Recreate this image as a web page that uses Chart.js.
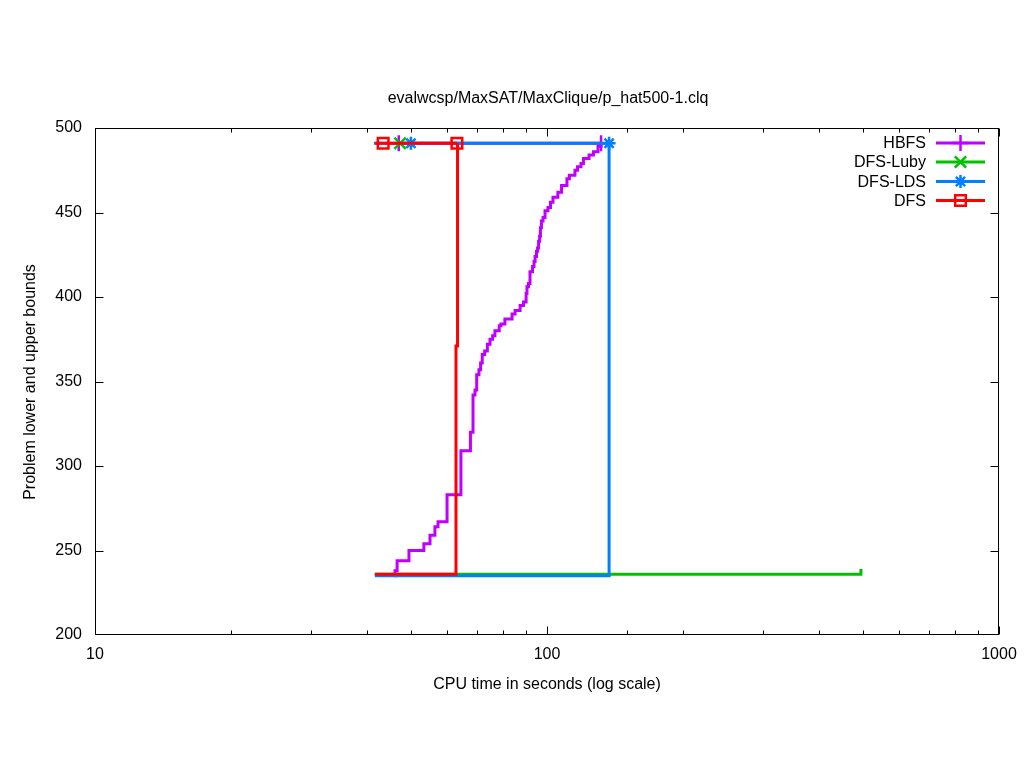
<!DOCTYPE html>
<html>
<head>
<meta charset="utf-8">
<script src="https://cdn.jsdelivr.net/npm/chart.js@4/dist/chart.umd.min.js"></script>
<style>
html,body{margin:0;padding:0;background:#fff;}
canvas{display:block;}
</style>
</head>
<body>
<canvas id="c" width="1024" height="768"></canvas>
<script>
// ---- data (time in seconds, bound value) ----
const chartTitle = 'evalwcsp/MaxSAT/MaxClique/p_hat500-1.clq';
const xTitle = 'CPU time in seconds (log scale)';
const yTitle = 'Problem lower and upper bounds';
const xTickLabels = [10, 100, 1000];
const yTickValues = [200, 250, 300, 350, 400, 450, 500];
const seriesNames = ['HBFS', 'DFS-Luby', 'DFS-LDS', 'DFS'];

// HBFS
const hbfsUpperTime  = [47.0, 131.7];
const hbfsUpperBound = [491, 491];
const hbfsLowerTime  = [45.9, 46.1, 46.6, 49.5, 53.4, 55.1, 56.5, 57.4, 60.1, 64.5, 67.7, 68.6, 69.3, 69.9, 70.7, 71.3, 71.9, 72.8, 73.8, 74.8, 75.8, 76.7, 78.4, 79.1, 80.7, 83.7, 85.0, 87.2, 88.7, 89.9, 90.3, 91.0, 91.7, 92.9, 93.6, 94.1, 94.8, 95.3, 95.8, 96.3, 96.7, 97.2, 98.0, 99.0, 100.5, 101.8, 103.1, 105.7, 107.7, 110.7, 112.1, 115.3, 116.8, 118.9, 120.4, 123.9, 126.7, 129.7, 131.7];
const hbfsLowerBound = [235, 238, 244, 250, 254, 259, 264, 267, 283, 309, 320, 342, 345, 354, 357, 361, 366, 368, 372, 375, 377, 380, 383, 384, 387, 390, 392, 395, 397, 402, 406, 408, 415, 418, 421, 424, 427, 429, 433, 436, 441, 445, 447, 451, 453, 456, 459, 462, 466, 470, 472, 475, 477, 479, 482, 484, 486, 489, 491];

// DFS-Luby
const lubyUpperTime  = [47.3];
const lubyUpperBound = [491];
const lubyLowerTime  = [41.6, 495];
const lubyLowerBound = [236, 239];

// DFS-LDS
const ldsUpperTime  = [41.4, 50.0, 137.2];
const ldsUpperBound = [491, 491, 491];
const ldsUpperMark  = [false, true, true];
const ldsLowerTime  = [41.6, 137.2];
const ldsLowerBound = [235, 491];

// DFS
const dfsUpperTime  = [41.7, 43.4, 63.2];
const dfsUpperBound = [491, 491, 491];
const dfsUpperMark  = [false, true, true];
const dfsLowerTime  = [41.6, 62.9, 63.4];
const dfsLowerBound = [236, 371, 491];

// ---- styling ----
const FONT = '"Liberation Sans", Arial, sans-serif';
const colors = {HBFS:'#C000FF', 'DFS-Luby':'#00C000', 'DFS-LDS':'#0080FF', DFS:'#FF0000'};
const markers = {
  HBFS: {pointStyle:'cross', radius:8},
  'DFS-Luby': {pointStyle:'crossRot', radius:8},
  'DFS-LDS': {pointStyle:'star', radius:6.5},
  DFS: {pointStyle:'rect', radius:7.5}
};
const LW = 3;

function pts(t, v){ return t.map((x,i)=>({x:x, y:v[i]})); }

function upperDS(name, t, v, mark){
  const m = markers[name];
  return {
    label: name, data: pts(t, v), stepped: true,
    borderColor: colors[name], borderWidth: LW, backgroundColor:'rgba(0,0,0,0)',
    pointStyle: m.pointStyle,
    pointRadius: mark ? mark.map(b=>b?m.radius:0) : m.radius,
    pointBorderWidth: 2.5, pointBorderColor: colors[name], pointBackgroundColor:'rgba(0,0,0,0)',
    pointHoverRadius: 0
  };
}
function lowerDS(name, t, v){
  return {
    label: name+' lb', data: pts(t, v), stepped: true,
    borderColor: colors[name], borderWidth: LW, backgroundColor:'rgba(0,0,0,0)',
    pointRadius: 0, pointHoverRadius: 0
  };
}

// index 0 is drawn on top
const datasets = [
  upperDS('DFS', dfsUpperTime, dfsUpperBound, dfsUpperMark),
  lowerDS('DFS', dfsLowerTime, dfsLowerBound),
  upperDS('DFS-LDS', ldsUpperTime, ldsUpperBound, ldsUpperMark),
  lowerDS('DFS-LDS', ldsLowerTime, ldsLowerBound),
  upperDS('DFS-Luby', lubyUpperTime, lubyUpperBound, null),
  lowerDS('DFS-Luby', lubyLowerTime, lubyLowerBound),
  upperDS('HBFS', hbfsUpperTime, hbfsUpperBound, null),
  lowerDS('HBFS', hbfsLowerTime, hbfsLowerBound)
];

const framePlugin = {
  id: 'frame',
  afterDraw(chart){
    const ctx = chart.ctx, a = chart.chartArea;
    const xs = chart.scales.x, ys = chart.scales.y;
    ctx.save();
    ctx.strokeStyle = '#000'; ctx.lineWidth = 1;
    const L = Math.round(a.left)+0.5, R = Math.round(a.right)-0.5;
    const T = Math.round(a.top)+0.5, B = Math.round(a.bottom)-0.5;
    ctx.strokeRect(L, T, R-L, B-T);
    ctx.beginPath();
    xs.ticks.forEach(t=>{
      const v = t.value;
      const major = xTickLabels.includes(v);
      const len = major ? 8 : 4;
      const px = Math.round(xs.getPixelForValue(v))+0.5;
      ctx.moveTo(px, B); ctx.lineTo(px, B-len);
      ctx.moveTo(px, T); ctx.lineTo(px, T+len);
    });
    yTickValues.forEach(v=>{
      const py = Math.min(B, Math.max(T, Math.round(ys.getPixelForValue(v))+0.5));
      ctx.moveTo(L, py); ctx.lineTo(L+8, py);
      ctx.moveTo(R, py); ctx.lineTo(R-8, py);
    });
    ctx.stroke();

    // titles
    ctx.fillStyle = '#000';
    ctx.font = '16px ' + FONT;
    ctx.textAlign = 'center'; ctx.textBaseline = 'alphabetic';
    ctx.fillText(chartTitle, 548, 103);
    ctx.fillText(xTitle, 547, 689);
    ctx.save();
    ctx.translate(30.5, 382);
    ctx.rotate(-Math.PI/2);
    ctx.textBaseline = 'middle';
    ctx.fillText(yTitle, 0, 0);
    ctx.restore();

    // legend
    const rows = [143, 162, 181.5, 200.5];
    seriesNames.forEach((n, i)=>{
      const y = rows[i];
      ctx.fillStyle = '#000';
      ctx.textAlign = 'right'; ctx.textBaseline = 'middle';
      ctx.fillText(n, 926, y+1);
      ctx.strokeStyle = colors[n]; ctx.lineWidth = LW;
      ctx.beginPath(); ctx.moveTo(936, y); ctx.lineTo(985, y); ctx.stroke();
      ctx.lineWidth = 2.5; ctx.fillStyle = 'rgba(0,0,0,0)';
      Chart.helpers.drawPoint(ctx, {pointStyle: markers[n].pointStyle, radius: markers[n].radius, rotation: 0, borderWidth: 2.5}, 960.5, y);
    });
    ctx.restore();
  }
};

new Chart(document.getElementById('c'), {
  type: 'line',
  data: { datasets: datasets },
  options: {
    responsive: false,
    animation: false,
    events: [],
    layout: { padding: { top: 128, right: 25, left: 0, bottom: 0 } },
    plugins: { legend: {display:false}, title:{display:false}, tooltip:{enabled:false} },
    elements: { line: { tension: 0 } },
    scales: {
      x: {
        type: 'logarithmic', min: 10, max: 1000,
        grid: { display:false, drawTicks:false },
        border: { display:false },
        ticks: {
          autoSkip:false, maxRotation:0, padding: 10, color:'#000',
          font: { family: FONT, size: 16 },
          callback: (v)=> xTickLabels.includes(v) ? String(v) : ''
        },
        afterFit(s){ s.height = 133; s.paddingLeft = 0; s.paddingRight = 0; }
      },
      y: {
        type: 'linear', min: 200, max: 500,
        grid: { display:false, drawTicks:false },
        border: { display:false },
        afterBuildTicks(s){ s.ticks = yTickValues.map(v=>({value:v})); },
        ticks: { padding: 13, color:'#000', font: { family: FONT, size: 16 } },
        afterFit(s){ s.width = 95; s.paddingTop = 0; s.paddingBottom = 0; }
      }
    }
  },
  plugins: [framePlugin]
});
</script>
</body>
</html>
